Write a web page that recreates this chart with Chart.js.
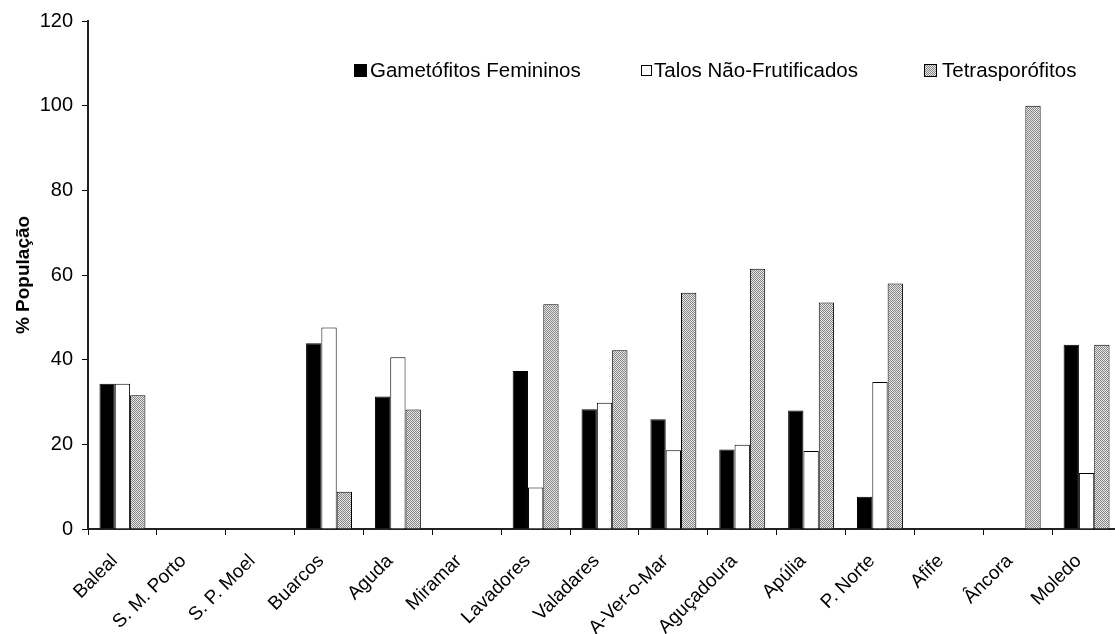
<!DOCTYPE html>
<html>
<head>
<meta charset="utf-8">
<script src="https://cdn.jsdelivr.net/npm/chart.js@4.4.0/dist/chart.umd.min.js"></script>
<style>
  html, body { margin: 0; padding: 0; background: #fff; overflow: hidden; }
  #wrap { width: 1125px; height: 634px; }
</style>
</head>
<body>
<div id="wrap"><canvas id="c" width="1125" height="634"></canvas></div>
<script>
const categories = ['Baleal', 'S. M. Porto', 'S. P. Moel', 'Buarcos', 'Aguda', 'Miramar', 'Lavadores', 'Valadares', 'A-Ver-o-Mar', 'Aguçadoura', 'Apúlia', 'P. Norte', 'Afife', 'Âncora', 'Moledo'];
const gametofitos = [34.3, 0, 0, 43.9, 31.3, 0, 37.3, 28.3, 25.9, 18.8, 28.0, 7.6, 0, 0, 43.5];
const talos = [34.3, 0, 0, 47.6, 40.6, 0, 9.8, 29.8, 18.6, 19.9, 18.4, 34.7, 0, 0, 13.2];
const tetrasporofitos = [31.6, 0, 0, 8.8, 28.2, 0, 53.1, 42.2, 55.8, 61.5, 53.5, 58.0, 0, 100, 43.5];
const seriesNames = ['Gametófitos Femininos', 'Talos Não-Frutificados', 'Tetrasporófitos'];
const yTitle = '% População';

const FONT = '"Liberation Sans", Arial, Helvetica, sans-serif';

function makePattern() {
  const pc = document.createElement('canvas');
  pc.width = 2; pc.height = 2;
  const p = pc.getContext('2d');
  p.fillStyle = '#e8e8e8'; p.fillRect(0, 0, 2, 2);
  p.fillStyle = '#858585'; p.fillRect(0, 0, 1, 1); p.fillRect(1, 1, 1, 1);
  return document.getElementById('c').getContext('2d').createPattern(pc, 'repeat');
}
const hatch = makePattern();

const legendPlugin = {
  id: 'inlineLegend',
  afterDraw(chart) {
    const ctx = chart.ctx;
    ctx.save();
    ctx.font = '20.5px ' + FONT;
    ctx.textBaseline = 'middle';
    const y = 71;
    ctx.fillStyle = '#000';
    ctx.fillRect(354, y - 7, 13, 13);
    ctx.fillText(seriesNames[0], 370, y);
    ctx.strokeStyle = '#000'; ctx.lineWidth = 1;
    ctx.strokeRect(641.5, y - 5.5, 10, 10);
    ctx.fillText(seriesNames[1], 654, y);
    ctx.fillStyle = hatch;
    ctx.fillRect(925, y - 6, 12, 12);
    ctx.strokeRect(924.5, y - 6.5, 12, 12);
    ctx.fillStyle = '#000';
    ctx.fillText(seriesNames[2], 942, y);
    ctx.restore();
  }
};

new Chart(document.getElementById('c'), {
  type: 'bar',
  data: {
    labels: categories,
    datasets: [
      { label: seriesNames[0], data: gametofitos, backgroundColor: '#000', borderColor: '#000', borderWidth: 1 },
      { label: seriesNames[1], data: talos, backgroundColor: '#fff', borderColor: '#000', borderWidth: 1 },
      { label: seriesNames[2], data: tetrasporofitos, backgroundColor: hatch, borderColor: '#000', borderWidth: 1 }
    ]
  },
  options: {
    responsive: false,
    animation: false,
    layout: { padding: { top: 21, right: 4, left: 0, bottom: 0 } },
    plugins: { legend: { display: false }, tooltip: { enabled: false } },
    datasets: { bar: { categoryPercentage: 0.667, barPercentage: 1.0 } },
    scales: {
      x: {
        afterFit(scale) { scale.height = 105; },
        grid: { display: true, drawOnChartArea: false, offset: true, tickLength: 6, tickColor: '#000', tickWidth: 1 },
        border: { display: true, color: '#222', width: 2 },
        ticks: { autoSkip: false, minRotation: 45, maxRotation: 45, color: '#000', font: { family: FONT, size: 19 }, padding: 15, labelOffset: -8 }
      },
      y: {
        min: 0, max: 120,
        afterFit(scale) { scale.width = 88; },
        grid: { display: true, drawOnChartArea: false, tickLength: 6, tickColor: '#000', tickWidth: 1 },
        border: { display: true, color: '#222', width: 2 },
        ticks: { stepSize: 20, color: '#000', font: { family: FONT, size: 20 }, padding: 9 },
        title: { display: true, text: yTitle, color: '#000', font: { family: FONT, size: 19, weight: 'bold' }, padding: { top: 12, bottom: 0 } }
      }
    }
  },
  plugins: [legendPlugin]
});
</script>
</body>
</html>
